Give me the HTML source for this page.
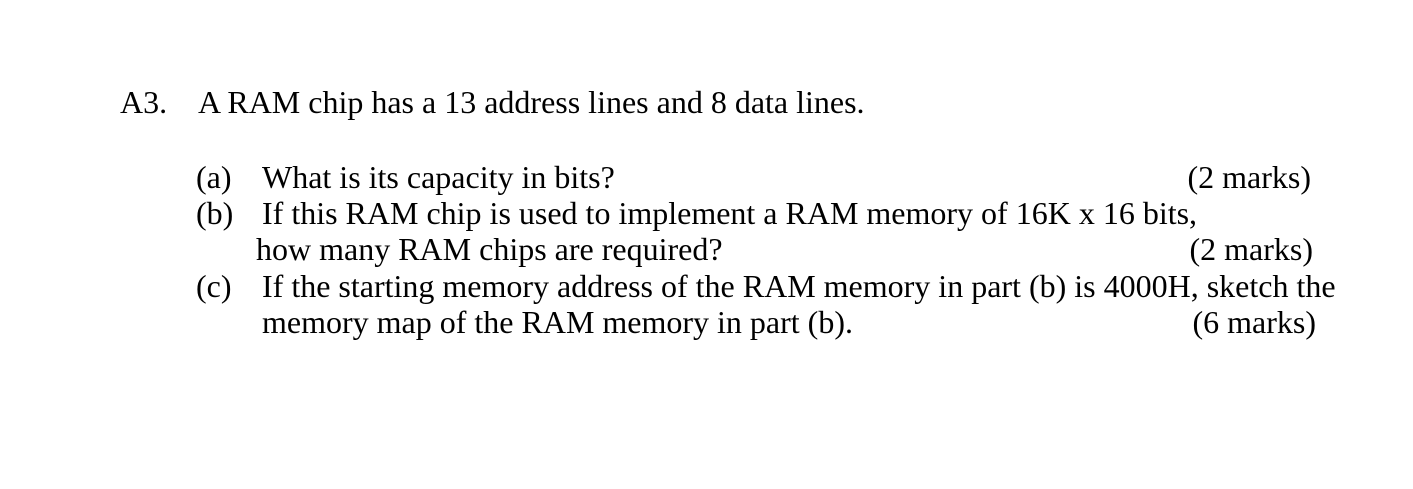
<!DOCTYPE html>
<html><head><meta charset="utf-8"><style>
html,body{margin:0;padding:0;background:#fff;}
body{width:1413px;height:489px;position:relative;overflow:hidden;font-family:"Liberation Serif",serif;font-size:32px;line-height:30px;color:#000;}
.t{position:absolute;white-space:nowrap;}
.r{position:absolute;white-space:nowrap;text-align:right;}
</style></head><body>
<div class="t" style="left:120px;top:87px">A3.</div>
<div class="t" style="left:198px;top:87px">A RAM chip has a 13 address lines and 8 data lines.</div>

<div class="t" style="left:196px;top:162px">(a)</div>
<div class="t" style="left:262px;top:162px">What is its capacity in bits?</div>
<div class="r" style="right:102px;top:162px">(2 marks)</div>

<div class="t" style="left:196px;top:198px">(b)</div>
<div class="t" style="left:262px;top:198px">If this RAM chip is used to implement a RAM memory of 16K x 16 bits,</div>
<div class="t" style="left:256px;top:234px">how many RAM chips are required?</div>
<div class="r" style="right:100px;top:234px">(2 marks)</div>

<div class="t" style="left:196px;top:271px">(c)</div>
<div class="t" style="left:262px;top:271px">If the starting memory address of the RAM memory in part (b) is 4000H, sketch the</div>
<div class="t" style="left:262px;top:307px">memory map of the RAM memory in part (b).</div>
<div class="r" style="right:97px;top:307px">(6 marks)</div>
</body></html>
